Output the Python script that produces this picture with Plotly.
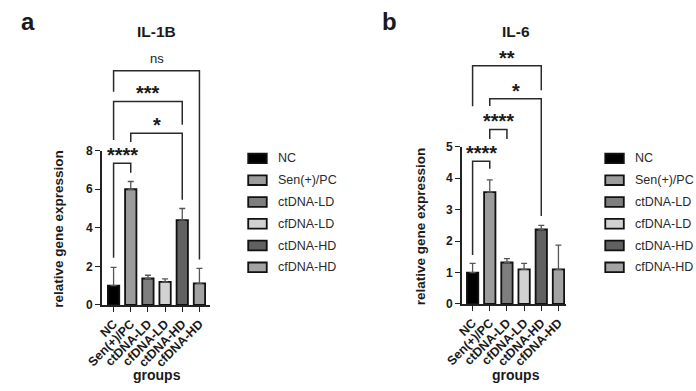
import plotly.graph_objects as go

# ---------------- data ----------------
groups = ["NC", "Sen(+)/PC", "ctDNA-LD", "cfDNA-LD", "ctDNA-HD", "cfDNA-HD"]
il1b_mean = [1.0, 6.0, 1.37, 1.2, 4.4, 1.12]
il1b_err = [0.95, 0.4, 0.17, 0.15, 0.6, 0.78]
il6_mean = [1.0, 3.56, 1.32, 1.1, 2.37, 1.1]
il6_err = [0.29, 0.39, 0.12, 0.19, 0.13, 0.77]
bar_colors = ["#000000", "#9c9c9c", "#7e7e7e", "#d2d2d2", "#616161", "#a3a3a3"]
il1b_ticks = [0, 2, 4, 6, 8]
il6_ticks = [0, 1, 2, 3, 4, 5]
# significance brackets: (from, to, bar height, left leg end, right leg end, label)
il1b_sig = [(0, 1, 7.35, 2.45, 6.85, "****"),
            (1, 4, 8.9, 8.45, 5.45, "*"),
            (0, 4, 10.55, 8.55, 9.35, "***"),
            (0, 5, 12.15, 11.05, 2.35, "ns")]
il6_sig = [(0, 1, 4.54, 1.56, 4.3, "****"),
           (1, 2, 5.55, 5.25, 5.25, "****"),
           (1, 4, 6.53, 6.3, 2.8, "*"),
           (0, 4, 7.58, 6.29, 6.8, "**")]

W, H = 696, 391
FONT = "Arial, Liberation Sans, Helvetica, sans-serif"
TXT = "#1a1a1a"


def fx(px):
    return px / W


def fy(py):
    return 1 - py / H


fig = go.Figure()

panels = [
    dict(mean=il1b_mean, err=il1b_err, ticks=il1b_ticks, sig=il1b_sig,
         xl=87, xr=198, c0=99, step=17.6, y0=309, ytop=149, ymax=8,
         title="IL-1B", tag="a", tagx=11, titlex=143, ylabx=43,
         legx=237, xa="x", ya="y", xb="x3", yb="y3"),
    dict(mean=il6_mean, err=il6_err, ticks=il6_ticks, sig=il6_sig,
         xl=456, xr=563, c0=467, step=17.6, y0=308, ytop=145, ymax=5,
         title="IL-6", tag="b", tagx=382, titlex=512, ylabx=413,
         legx=603, xa="x2", ya="y2", xb="x4", yb="y4"),
]

annotations = []
shapes = []

for k, p in enumerate(panels):
    ppu = (p["y0"] - p["ytop"]) / p["ymax"]
    xr0 = (p["xl"] - p["c0"]) / p["step"]
    xr1 = (p["xr"] - p["c0"]) / p["step"]
    xs = list(range(len(groups)))

    fig.add_trace(go.Bar(
        x=xs, y=p["mean"], xaxis=p["xa"], yaxis=p["ya"],
        width=0.66,
        marker=dict(color=bar_colors, line=dict(color="#111111", width=1.8)),
        error_y=dict(type="data", symmetric=False, array=p["err"],
                     arrayminus=[0] * len(groups), color="#555555",
                     thickness=1.3, width=3),
        showlegend=False,
    ))

    # significance brackets on overlay axes
    for (i, j, h, lb, rb, lab) in p["sig"]:
        fig.add_trace(go.Scatter(
            x=[i, i, j, j], y=[lb, h, h, rb], mode="lines",
            line=dict(color="#2a2a2a", width=1.5),
            xaxis=p["xb"], yaxis=p["yb"], showlegend=False, hoverinfo="skip"))
        is_star = "*" in lab
        annotations.append(dict(
            x=(i + j) / 2, y=h + (8.5 if is_star else 13) / ppu,
            xref=p["xb"], yref=p["yb"], text=("<b>%s</b>" % lab) if is_star else lab,
            showarrow=False, xanchor="center", yanchor="middle",
            font=dict(family=FONT, size=20 if is_star else 13, color=TXT)))

    ax_common = dict(showgrid=False, zeroline=False, showline=True,
                     linecolor="#222222", linewidth=1.6,
                     ticks="outside", ticklen=5, tickwidth=1.4, tickcolor="#222222")
    xkey = "xaxis" if k == 0 else "xaxis2"
    ykey = "yaxis" if k == 0 else "yaxis2"
    fig.layout[xkey] = dict(
        domain=[fx(p["xl"]), fx(p["xr"])], range=[xr0, xr1], anchor=p["ya"],
        tickvals=xs, ticktext=["<b>%s</b>" % g for g in groups], tickangle=-45,
        tickfont=dict(family=FONT, size=12.5, color=TXT), **ax_common)
    fig.layout[ykey] = dict(
        domain=[fy(p["y0"]), fy(p["ytop"])], range=[0, p["ymax"]], anchor=p["xa"],
        tickvals=p["ticks"], ticktext=["<b>%d</b>" % t for t in p["ticks"]],
        tickfont=dict(family=FONT, size=12, color=TXT), **ax_common)
    xbkey = "xaxis3" if k == 0 else "xaxis4"
    ybkey = "yaxis3" if k == 0 else "yaxis4"
    fig.layout[xbkey] = dict(domain=[fx(p["xl"]), fx(p["xr"])], range=[xr0, xr1],
                             visible=False, anchor=p["yb"])
    fig.layout[ybkey] = dict(domain=[fy(p["y0"]), 1], range=[0, p["y0"] / ppu],
                             visible=False, anchor=p["xb"])

    common = dict(xref="paper", yref="paper", showarrow=False,
                  xanchor="center", yanchor="middle")
    annotations.append(dict(x=fx(p["titlex"]), y=fy(25), text="<b>%s</b>" % p["title"],
                            font=dict(family=FONT, size=15.5, color=TXT), **common))
    annotations.append(dict(x=fx(p["tagx"]), y=fy(15), text="<b>%s</b>" % p["tag"],
                            font=dict(family=FONT, size=24, color=TXT), **common))
    annotations.append(dict(x=fx(p["ylabx"]), y=fy((p["y0"] + p["ytop"]) / 2 + 1),
                            textangle=-90, text="<b>relative gene expression</b>",
                            font=dict(family=FONT, size=13.5, color=TXT), **common))
    annotations.append(dict(x=fx(p["titlex"]), y=fy(382), text="<b>groups</b>",
                            font=dict(family=FONT, size=14, color=TXT), **common))

    # legend built from the categories and colours
    for n, (g, c) in enumerate(zip(groups, bar_colors)):
        cy = 157 + n * 22.6
        shapes.append(dict(type="rect", xref="paper", yref="paper",
                           x0=fx(p["legx"]), x1=fx(p["legx"] + 19),
                           y0=fy(cy + 5), y1=fy(cy - 5), fillcolor=c,
                           line=dict(color="#111111", width=1.8)))
        annotations.append(dict(x=fx(p["legx"] + 28), y=fy(cy), xref="paper",
                                yref="paper", text=g, showarrow=False,
                                xanchor="left", yanchor="middle",
                                font=dict(family=FONT, size=12.5, color="#2a2a2a")))

fig.update_layout(width=W, height=H, margin=dict(l=0, r=0, t=0, b=0),
                  paper_bgcolor="white", plot_bgcolor="rgba(0,0,0,0)",
                  annotations=annotations, shapes=shapes, bargap=0.3)
fig.write_html("out.html")
